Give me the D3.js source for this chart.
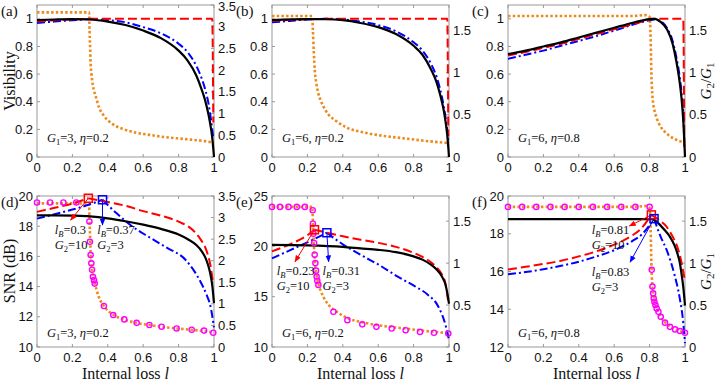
<!DOCTYPE html>
<html>
<head>
<meta charset="utf-8">
<script src="https://cdn.jsdelivr.net/npm/d3@7"></script>
<style>
  body { margin: 0; background: #fff; }
  text { font-family: "Liberation Sans", Arial, sans-serif; fill: #111; }
  .serif { font-family: "Liberation Serif", "Times New Roman", serif; }
</style>
</head>
<body>
<div id="chart"></div>
<script>
// ---- tick labels ----
var xTicks = [0, 0.2, 0.4, 0.6, 0.8, 1];
var visTicks = [0, 0.2, 0.4, 0.6, 0.8, 1];
var ratioTicksA = [0, 0.5, 1, 1.5, 2, 2.5, 3, 3.5];
var ratioTicks = [0, 0.5, 1, 1.5];
var snrTicksD = [10, 12, 14, 16, 18, 20];
var snrTicksE = [10, 15, 20, 25];
var snrTicksF = [12, 14, 16, 18, 20];

// ---- G2/G1 (orange dotted), shared by the two panels of one column ----
var ratioA = [[0,3.33],[0.294,3.33],[0.297,2.9],[0.3,2.55],[0.303,2.15],[0.307,1.94],[0.311,1.79],[0.316,1.64],
  [0.322,1.53],[0.33,1.42],[0.35,1.15],[0.378,0.95],[0.43,0.75],[0.49,0.64],[0.56,0.56],[0.635,0.51],
  [0.7,0.47],[0.79,0.43],[0.87,0.4],[0.94,0.37],[1,0.33]];
var ratioB = [[0,1.67],[0.227,1.67],[0.231,1.5],[0.236,1.25],[0.242,1.02],[0.25,0.88],[0.26,0.77],[0.275,0.67],
  [0.29,0.6],[0.32,0.5],[0.36,0.43],[0.42,0.35],[0.52,0.29],[0.63,0.25],[0.75,0.22],[0.87,0.19],[1,0.165]];
var ratioC = [[0,1.67],[0.7,1.67],[0.78,1.68],[0.8,1.66],[0.806,1.4],[0.81,1.0],[0.815,0.75],[0.82,0.64],
  [0.83,0.53],[0.84,0.46],[0.85,0.41],[0.865,0.35],[0.89,0.29],[0.915,0.245],[0.945,0.21],[0.975,0.185],[1,0.17]];

// ---- visibility, top row ----
var visBlackA = [[0,0.99],[0.1,0.995],[0.2,0.998],[0.3,0.995],[0.4,0.98],[0.5,0.955],[0.6,0.915],[0.7,0.86],
  [0.8,0.77],[0.85,0.7],[0.9,0.59],[0.93,0.49],[0.95,0.41],[0.97,0.3],[0.98,0.23],[0.99,0.14],[1,0]];
var visBlueA = [[0,0.97],[0.1,0.98],[0.2,0.99],[0.3,0.997],[0.4,0.99],[0.5,0.975],[0.6,0.94],[0.7,0.895],
  [0.8,0.82],[0.85,0.76],[0.9,0.66],[0.93,0.57],[0.95,0.49],[0.97,0.38],[0.98,0.3],[0.99,0.2],[0.995,0.15]];
var visRedA = [[0,0.98],[0.1,0.99],[0.2,0.995],[0.3,1.0],[0.99,1.0],[0.996,0.25]];

var visBlackB = [[0,0.99],[0.2,0.998],[0.3,0.997],[0.4,0.99],[0.5,0.97],[0.6,0.94],[0.7,0.89],[0.8,0.805],
  [0.85,0.74],[0.9,0.63],[0.93,0.54],[0.95,0.45],[0.97,0.34],[0.98,0.26],[0.99,0.16],[1,0]];
var visBlueB = [[0,0.975],[0.1,0.985],[0.2,0.995],[0.3,1.0],[0.4,0.995],[0.5,0.98],[0.6,0.955],[0.7,0.91],
  [0.8,0.83],[0.85,0.77],[0.9,0.67],[0.93,0.58],[0.95,0.49],[0.97,0.37],[0.98,0.29],[0.99,0.19],[0.995,0.12]];
var visRedB = [[0,0.985],[0.15,0.995],[0.35,1.0],[0.99,1.0],[0.996,0.15]];

var visBlackC = [[0,0.745],[0.1,0.77],[0.2,0.8],[0.3,0.83],[0.4,0.865],[0.5,0.9],[0.6,0.935],[0.7,0.97],
  [0.8,0.998],[0.83,1.0],[0.86,0.98],[0.9,0.92],[0.93,0.82],[0.95,0.7],[0.97,0.54],[0.98,0.43],[0.99,0.27],[1,0]];
var visBlueC = [[0,0.71],[0.1,0.74],[0.2,0.77],[0.3,0.805],[0.4,0.84],[0.5,0.875],[0.6,0.915],[0.7,0.955],
  [0.8,0.99],[0.83,0.995],[0.86,0.985],[0.9,0.93],[0.93,0.84],[0.95,0.73],[0.97,0.58],[0.98,0.47],[0.99,0.3],[0.995,0.15]];
var visRedC = [[0,0.735],[0.1,0.76],[0.2,0.79],[0.3,0.82],[0.4,0.855],[0.5,0.89],[0.6,0.925],[0.7,0.96],
  [0.8,0.995],[0.81,1.0],[0.99,1.0],[0.996,0.05]];

// ---- SNR (dB), bottom row ----
var snrBlackD = [[0,18.72],[0.1,18.72],[0.2,18.7],[0.3,18.65],[0.4,18.52],[0.5,18.33],[0.6,18.1],[0.7,17.82],
  [0.8,17.45],[0.85,17.15],[0.9,16.75],[0.93,16.35],[0.95,15.95],[0.97,15.3],[0.98,14.8],[0.99,14.1],[1,12.9]];
var snrRedD = [[0,18.95],[0.1,19.22],[0.2,19.5],[0.29,19.85],[0.4,19.6],[0.5,19.35],[0.6,19.0],[0.7,18.7],
  [0.8,18.3],[0.88,17.75],[0.92,17.2],[0.96,16.3],[0.98,15.4],[0.995,14.2]];
var snrBlueD = [[0,18.5],[0.1,18.8],[0.2,19.1],[0.3,19.45],[0.37,19.75],[0.45,18.85],[0.54,17.97],[0.63,17.3],
  [0.73,16.6],[0.84,15.76],[0.92,14.4],[0.96,13.4],[0.98,12.7],[1,11.3]];
var simD = [[0,3.35],[0.074,3.35],[0.149,3.35],[0.222,3.35],[0.296,2.91],[0.299,2.44],[0.303,2.13],[0.307,1.94],
  [0.311,1.79],[0.316,1.63],[0.322,1.55],[0.326,1.47],[0.378,0.95],[0.431,0.74],[0.493,0.64],[0.563,0.56],
  [0.635,0.51],[0.704,0.47],[0.789,0.43],[0.874,0.4],[0.944,0.38],[0.996,0.33]];

var snrBlackE = [[0,20.15],[0.2,20.1],[0.4,19.95],[0.5,19.8],[0.6,19.65],[0.7,19.42],[0.8,19.0],[0.85,18.68],
  [0.9,18.15],[0.93,17.7],[0.96,17.0],[0.98,16.2],[0.99,15.4],[1,14.3]];
var snrRedE = [[0,19.5],[0.1,20.2],[0.2,21.1],[0.24,21.65],[0.3,21.4],[0.4,21.0],[0.52,20.6],[0.6,20.35],
  [0.7,19.95],[0.8,19.35],[0.85,18.95],[0.9,18.4],[0.93,17.9],[0.96,17.2],[0.98,16.3],[0.995,14.6]];
var snrBlueE = [[0,18.8],[0.1,19.6],[0.2,20.4],[0.31,21.35],[0.4,20.2],[0.52,18.97],[0.6,18.2],[0.7,17.1],
  [0.81,16.0],[0.88,15.2],[0.94,14.0],[0.98,12.2],[1,10.7]];
var simE = [[0,1.67],[0.045,1.67],[0.093,1.67],[0.14,1.67],[0.186,1.67],[0.23,1.63],[0.231,1.47],[0.234,1.35],
  [0.238,1.24],[0.241,1.1],[0.245,1.0],[0.249,0.91],[0.252,0.84],[0.256,0.79],[0.262,0.74],[0.347,0.42],
  [0.426,0.32],[0.51,0.27],[0.59,0.24],[0.676,0.22],[0.755,0.2],[0.836,0.18],[0.915,0.17],[0.996,0.16]];

var snrBlackF = [[0,18.77],[0.81,18.77],[0.85,18.55],[0.88,18.25],[0.915,17.84],[0.94,17.4],[0.957,16.96],
  [0.97,16.5],[0.98,15.9],[0.99,15.2],[1,14.2]];
var snrRedF = [[0,16.1],[0.1,16.25],[0.2,16.4],[0.3,16.57],[0.4,16.8],[0.5,17.07],[0.6,17.42],[0.7,17.9],
  [0.75,18.25],[0.81,19.0],[0.85,18.75],[0.896,18.37],[0.93,17.85],[0.957,17.3],[0.975,16.7],[0.99,16.0],[1,15.5]];
var snrBlueF = [[0,15.85],[0.1,15.97],[0.2,16.12],[0.3,16.3],[0.4,16.52],[0.5,16.8],[0.6,17.13],[0.7,17.6],
  [0.76,18.0],[0.825,18.8],[0.86,17.9],[0.9,17.05],[0.94,15.85],[0.97,14.6],[0.99,13.3],[1,12.2]];
var simF = [[0,1.67],[0.08,1.67],[0.16,1.67],[0.24,1.67],[0.32,1.67],[0.4,1.67],[0.48,1.67],[0.56,1.67],
  [0.64,1.67],[0.72,1.67],[0.8,1.67],[0.812,0.92],[0.816,0.72],[0.82,0.64],[0.823,0.58],[0.827,0.54],
  [0.833,0.5],[0.84,0.46],[0.85,0.42],[0.863,0.36],[0.887,0.29],[0.915,0.24],[0.944,0.21],[0.972,0.19],[1,0.17]];

// optimum points (l_B, SNR) and their labels [l_B, G2]
var peaksD = [[0.29, 19.85], [0.37, 19.75]], labelsD = [["0.3", "10"], ["0.37", "3"]];
var peaksE = [[0.24, 21.65], [0.31, 21.35]], labelsE = [["0.23", "10"], ["0.31", "3"]];
var peaksF = [[0.81, 19.0], [0.825, 18.8]], labelsF = [["0.81", "10"], ["0.83", "3"]];

// ---- layout ----
var W = 719, H = 381;
var colLeft = [37, 272, 508], pw = 177;
var rowTop = [5, 196], rowBottom = [157, 347];
var ORANGE = "#ec8a1c", RED = "#ff0000", BLUE = "#0000ff", MAG = "#ff00ff";

var svg = d3.select("#chart").append("svg").attr("width", W).attr("height", H);

var defs = svg.append("defs");
[["red", RED], ["blue", BLUE]].forEach(function(c) {
  defs.append("marker").attr("id", "arr-" + c[0])
    .attr("viewBox", "0 0 10 10").attr("refX", 9).attr("refY", 5)
    .attr("markerWidth", 7).attr("markerHeight", 7).attr("markerUnits", "userSpaceOnUse")
    .attr("orient", "auto")
    .append("path").attr("d", "M0,1 L10,5 L0,9 Z").attr("fill", c[1]);
});

var panels = [
  {tag: "(a)", col: 0, row: 0, left: [0, 1.1], lt: visTicks, right: [0, 3.5], rt: ratioTicksA,
   black: visBlackA, red: visRedA, blue: visBlueA, orange: ratioA, g1: "3", eta: "0.2"},
  {tag: "(b)", col: 1, row: 0, left: [0, 1.1], lt: visTicks, right: [0, 1.8], rt: ratioTicks,
   black: visBlackB, red: visRedB, blue: visBlueB, orange: ratioB, g1: "6", eta: "0.2"},
  {tag: "(c)", col: 2, row: 0, left: [0, 1.1], lt: visTicks, right: [0, 1.8], rt: ratioTicks,
   black: visBlackC, red: visRedC, blue: visBlueC, orange: ratioC, g1: "6", eta: "0.8"},
  {tag: "(d)", col: 0, row: 1, left: [10, 20], lt: snrTicksD, right: [0, 3.5], rt: ratioTicksA,
   black: snrBlackD, red: snrRedD, blue: snrBlueD, orange: ratioA, sim: simD, g1: "3", eta: "0.2",
   peaks: peaksD, labels: labelsD,
   tips: [[0.19, 18.4], [0.37, 18.08]], txt: [[0.1, 17.5, 16.5], [0.34, 17.5, 16.5]]},
  {tag: "(e)", col: 1, row: 1, left: [10, 25], lt: snrTicksE, right: [0, 1.8], rt: ratioTicks,
   black: snrBlackE, red: snrRedE, blue: snrBlueE, orange: ratioB, sim: simE, g1: "6", eta: "0.2",
   peaks: peaksE, labels: labelsE,
   tips: [[0.13, 18.47], [0.32, 18.47]], txt: [[0.027, 17.15, 15.65], [0.285, 17.15, 15.65]]},
  {tag: "(f)", col: 2, row: 1, left: [12, 20], lt: snrTicksF, right: [0, 1.8], rt: ratioTicks,
   black: snrBlackF, red: snrRedF, blue: snrBlueF, orange: ratioC, sim: simF, g1: "6", eta: "0.8",
   peaks: peaksF, labels: labelsF,
   tips: [[0.686, 18.41], [0.69, 16.5]], txt: [[0.473, 18.0, 17.2], [0.473, 15.76, 14.96]]}
];

function lineOf(x, y) {
  return d3.line().x(function(d) { return x(d[0]); }).y(function(d) { return y(d[1]); })
    .curve(d3.curveMonotoneX);
}

// draw a curve; kinked curves are drawn as two smooth pieces split at the maximum
function drawCurve(g, data, x, y, color, dash, width, split) {
  var parts = [data];
  if (split) {
    var k = d3.maxIndex(data, function(d) { return d[1]; });
    parts = [data.slice(0, k + 1), data.slice(k)];
  }
  parts.forEach(function(p) {
    g.append("path").attr("d", lineOf(x, y)(p))
      .attr("fill", "none").attr("stroke", color).attr("stroke-width", width)
      .attr("stroke-dasharray", dash);
  });
}

function subText(t, main, sub, rest, size, italicSub) {
  t.append("tspan").style("font-style", "italic").text(main);
  t.append("tspan").attr("dy", 3).style("font-size", (size - 4) + "px")
    .style("font-style", italicSub ? "italic" : "normal").text(sub);
  t.append("tspan").attr("dy", -3).text(rest);
}

panels.forEach(function(p) {
  var x0 = colLeft[p.col], top = rowTop[p.row], bot = rowBottom[p.row];
  var x = d3.scaleLinear().domain([0, 1]).range([x0, x0 + pw]);
  var yl = d3.scaleLinear().domain(p.left).range([bot, top]);
  var yr = d3.scaleLinear().domain(p.right).range([bot, top]);
  var g = svg.append("g");
  var fmt = d3.format("~g");

  // box and ticks
  g.append("rect").attr("x", x0).attr("y", top).attr("width", pw).attr("height", bot - top)
    .attr("fill", "none").attr("stroke", "#999").attr("stroke-width", 1);
  xTicks.forEach(function(t) {
    g.append("line").attr("x1", x(t)).attr("x2", x(t)).attr("y1", bot).attr("y2", bot - 3).attr("stroke", "#999");
    g.append("line").attr("x1", x(t)).attr("x2", x(t)).attr("y1", top).attr("y2", top + 3).attr("stroke", "#999");
    g.append("text").attr("x", x(t)).attr("y", bot + 15).attr("text-anchor", "middle")
      .style("font-size", "13px").text(fmt(t));
  });
  p.lt.forEach(function(t) {
    g.append("line").attr("x1", x0).attr("x2", x0 + 3).attr("y1", yl(t)).attr("y2", yl(t)).attr("stroke", "#999");
    g.append("text").attr("x", x0 - 4).attr("y", Math.max(yl(t) + 4.5, 11)).attr("text-anchor", "end")
      .style("font-size", "13px").text(fmt(t));
  });
  p.rt.forEach(function(t) {
    g.append("line").attr("x1", x0 + pw).attr("x2", x0 + pw - 3).attr("y1", yr(t)).attr("y2", yr(t)).attr("stroke", "#999");
    g.append("text").attr("x", x0 + pw + 4).attr("y", Math.max(yr(t) + 4.5, 11)).attr("text-anchor", "start")
      .style("font-size", "13px").text(fmt(t));
  });

  // curves
  var bottomRow = p.row === 1;
  drawCurve(g, p.orange, x, yr, ORANGE, "2.5,2.2", 2.6, false);
  drawCurve(g, p.blue, x, yl, BLUE, "8,3,2,3", 2, bottomRow);
  drawCurve(g, p.red, x, yl, RED, "9,4", 2, bottomRow);
  drawCurve(g, p.black, x, yl, "#000", null, 2.2, false);

  if (p.sim) {
    g.selectAll(".sim").data(p.sim).enter().append("circle")
      .attr("cx", function(d) { return x(d[0]); }).attr("cy", function(d) { return yr(d[1]); })
      .attr("r", 2.6).attr("fill", "none").attr("stroke", MAG).attr("stroke-width", 1.4);
  }

  // optimum markers, arrows and labels
  if (p.peaks) {
    var cols = [RED, BLUE], names = ["red", "blue"];
    p.peaks.forEach(function(pk, i) {
      g.append("line").attr("x1", x(pk[0])).attr("y1", yl(pk[1]))
        .attr("x2", x(p.tips[i][0])).attr("y2", yl(p.tips[i][1]))
        .attr("stroke", cols[i]).attr("stroke-width", 1).attr("marker-end", "url(#arr-" + names[i] + ")");
      g.append("rect").attr("x", x(pk[0]) - 4).attr("y", yl(pk[1]) - 4).attr("width", 8).attr("height", 8)
        .attr("fill", "none").attr("stroke", cols[i]).attr("stroke-width", 1.5);
      var tx = x(p.txt[i][0]);
      var t1 = g.append("text").attr("class", "serif").attr("x", tx).attr("y", yl(p.txt[i][1]))
        .style("font-size", "12.5px");
      subText(t1, "l", "B", "=" + p.labels[i][0], 12.5, true);
      var t2 = g.append("text").attr("class", "serif").attr("x", tx).attr("y", yl(p.txt[i][2]))
        .style("font-size", "12.5px");
      subText(t2, "G", "2", "=" + p.labels[i][1], 12.5, false);
    });
  }

  // parameter note
  var note = g.append("text").attr("class", "serif").attr("x", x0 + 10)
    .attr("y", bottomRow ? bot - 10 : bot - 15).style("font-size", "12.5px");
  subText(note, "G", "1", "=" + p.g1 + ", ", 12.5, false);
  note.append("tspan").style("font-style", "italic").text("\u03b7");
  note.append("tspan").text("=" + p.eta);

  // panel tag
  g.append("text").attr("class", "serif").attr("x", x0 - 36).attr("y", top + 11)
    .style("font-size", "15px").text(p.tag);

  if (bottomRow) {
    var xl = g.append("text").attr("class", "serif").attr("x", x0 + pw / 2).attr("y", 379)
      .attr("text-anchor", "middle").style("font-size", "16px");
    xl.append("tspan").text("Internal loss ");
    xl.append("tspan").style("font-style", "italic").text("l");
  }
  if (p.col === 2) {
    var rl = g.append("text").attr("class", "serif")
      .attr("transform", "translate(711," + ((top + bot) / 2) + ") rotate(-90)")
      .attr("text-anchor", "middle").style("font-size", "15px");
    subText(rl, "G", "2", "/", 15, false);
    rl.append("tspan").style("font-style", "italic").text("G");
    rl.append("tspan").attr("dy", 3).style("font-size", "11px").text("1");
  }
});

svg.append("text").attr("class", "serif")
  .attr("transform", "translate(15,81) rotate(-90)").attr("text-anchor", "middle")
  .style("font-size", "16px").text("Visibility");
svg.append("text").attr("class", "serif")
  .attr("transform", "translate(15,271) rotate(-90)").attr("text-anchor", "middle")
  .style("font-size", "16px").text("SNR (dB)");
</script>
</body>
</html>
